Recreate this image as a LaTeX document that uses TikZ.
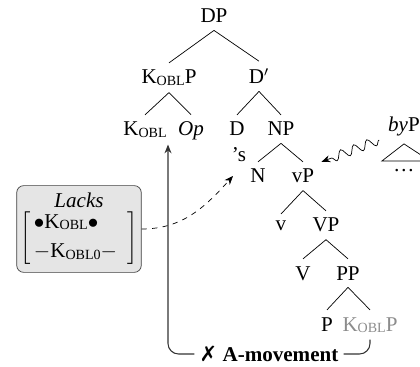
\documentclass[tikz,border=0pt]{standalone}
\usepackage{fontspec}
\setmainfont{Liberation Serif}
\newfontfamily\symfont{DejaVu Sans}
\usetikzlibrary{
    arrows.meta,
    decorations.pathmorphing,
    positioning
}
\newcommand{\Kobl}[1][]{K\raisebox{-0.6pt}{\fontsize{8}{9}\selectfont OBL#1}}
\tikzset{cat/.style={anchor=base, inner sep=4pt}}
\tikzset{lacksbox/.style={draw=black!75, fill=black!10, rounded corners=4pt, align=center, inner xsep=2pt, inner ysep=4pt}}
\tikzset{move/.style={-{Stealth[length=5pt, width=4pt]}, line width=0.6pt, draw=black!80}}

\begin{document}
\begin{tikzpicture}[x=0.57pt, y=-0.57pt, font=\fontsize{12}{14}\selectfont]
                        \useasboundingbox (0, 0) rectangle (420, 367);

                        \node[cat] (dp) at (214, 23) {DP};
                        \node[cat] (kp) at (169, 84) {\Kobl P};
                        \node[cat] (dbar) at (259, 84) {D$'$};
                        \node[cat] (kobl) at (145, 136) {\Kobl};
                        \node[cat] (op) at (191, 136) {\textit{Op}};
                        \node[cat] (d) at (237, 136) {D};
                        \node[cat] (np) at (281, 136) {NP};
                        \node[cat] (poss) at (239, 162) {’s};
                        \node[cat] (n) at (258, 183) {N};
                        \node[cat] (vp) at (303, 183) {vP};
                        \node[cat] (v) at (281, 231) {v};
                        \node[cat] (vbar) at (326, 232) {VP};
                        \node[cat] (vhead) at (303, 280) {V};
                        \node[cat] (pp) at (348, 280) {PP};
                        \node[cat] (p) at (327, 331) {P};
                        \node[cat, text=black!45] (kp2) at (370, 331) {\Kobl P};

                        \node[cat] (byp) at (404, 132) {\textit{by}P};
                        \node[cat] (dots) at (404, 172) {\dots};

                        \draw
                        (dp.south) edge (kp.north)
                        (dp.south) edge (dbar.north)
                        (kp.south) edge (kobl.north)
                        (kp.south) edge (op.north)
                        (dbar.south) edge (d.north)
                        (dbar.south) edge (np.north)
                        (np.south) edge (n.north)
                        (np.south) edge (vp.north)
                        (vp.south) edge (v.north)
                        (vp.south) edge (vbar.north)
                        (vbar.south) edge (vhead.north)
                        (vbar.south) edge (pp.north)
                        (pp.south) edge (p.north)
                        (pp.south) edge (kp2.north);

                        % roof over the by-phrase
                        \draw (byp.south) -- ++(-22, 17) -- ++(48, 0) -- cycle;

                        \coordinate (wave) at (379, 140);
                        \draw[decorate, decoration={snake, amplitude=2.6pt, segment length=8pt, post length=5pt},
                              -{Stealth[length=5pt, width=4pt]}]
                        (wave) -- (vp.north east);

                        \node[lacksbox] (lacks) at (79, 229)
                        {\textit{Lacks}\\[1pt]
                         $\left[\begin{tabular}{@{\,}l@{\hspace{6pt}}}$\bullet$\Kobl$\bullet$\\[3pt] $-$\Kobl[0]$-$\end{tabular}\right]$};

                        \coordinate (hit) at (233, 176);
                        \draw[dashed, -{Stealth[length=5pt, width=4pt]}] (lacks.east) to[out=0, in=228] (hit);

                        \coordinate (tail) at (168, 354);
                        \draw[move, rounded corners=6pt]
                        (kp2.south) |- node[pos=0.75, fill=white, inner sep=3pt, text=black]
                        {{\symfont\bfseries ✗} \textbf{A-movement}} (tail) -- (tail |- kobl.south);
                    \end{tikzpicture}
\end{document}
